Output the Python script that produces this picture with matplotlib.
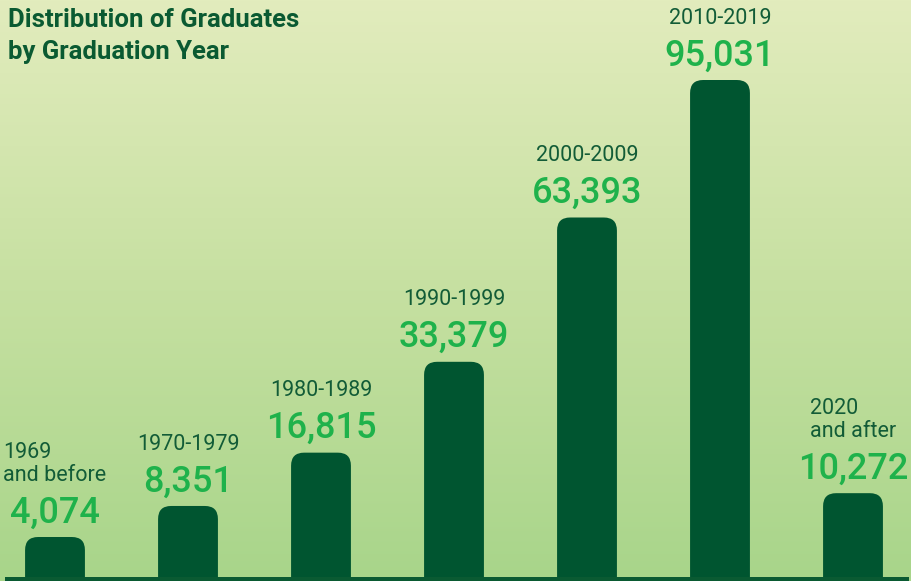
import numpy as np
import matplotlib
matplotlib.use("Agg")
from matplotlib import pyplot as plt
from matplotlib.patches import FancyBboxPatch, Rectangle
from matplotlib.colors import LinearSegmentedColormap

# data
periods = ["1969\nand before", "1970-1979", "1980-1989", "1990-1999",
           "2000-2009", "2010-2019", "2020\nand after"]
graduates = [4074, 8351, 16815, 33379, 63393, 95031, 10272]

dark_green = "#005530"
text_green = "#125c37"
value_green = "#1fb24b"

W, H = 912, 581
fig = plt.figure(figsize=(W / 100, H / 100), dpi=100)

# background gradient
bg = fig.add_axes([0, 0, 1, 1], zorder=0)
grad = LinearSegmentedColormap.from_list("bg", ["#e2ecbd", "#c6e0a1", "#a8d58a"])
bg.imshow(np.linspace(0, 1, 256).reshape(-1, 1), aspect="auto", cmap=grad,
          extent=[0, 1, 0, 1], origin="upper")
bg.axis("off")

# main axes, bars sit on a stripe 4px high
ax = fig.add_axes([0, 4 / H, 1, (H - 4) / H], zorder=1)
ax.patch.set_alpha(0)
ax.set_yscale("function", functions=(lambda v: np.sign(v) * np.abs(v) ** 0.8,
                                     lambda v: np.sign(v) * np.abs(v) ** 1.25))
x = np.arange(len(graduates))
ax.set_xlim(-55 / 133, (W - 55) / 133)
top = (max(graduates) ** 0.8 * (H - 4) / 497) ** 1.25
ax.set_ylim(0, top)
ax.axis("off")

# bars with rounded tops, built in pixel space from the data transform
width = 0.45
rad = 13
for xi, v in zip(x, graduates):
    (x0, y0), (x1, y1) = ax.transData.transform([(xi - width / 2, 0), (xi + width / 2, v)])
    p = FancyBboxPatch((x0 / fig.dpi, -rad / fig.dpi), (x1 - x0) / fig.dpi, (y1 + rad) / fig.dpi,
                       boxstyle=f"round,pad=0,rounding_size={rad / fig.dpi}",
                       transform=fig.dpi_scale_trans, facecolor=dark_green, edgecolor="none",
                       zorder=2)
    fig.add_artist(p)

    ax.annotate(f"{v:,}", (xi, v), xytext=(0, 10.5), textcoords="offset points",
                ha="center", va="baseline", fontsize=26, fontweight="medium",
                family="Roboto", color=value_green)
    ax.annotate(periods[xi], (xi, v), xytext=(0, 37), textcoords="offset points",
                ha="center", va="bottom", multialignment="left", linespacing=1.1,
                fontsize=15.5, family="Roboto", color=text_green)

fig.add_artist(Rectangle((5 / W, 0), (909 - 5) / W, 4 / H, transform=fig.transFigure,
                         facecolor="#0a5a32", edgecolor="none", zorder=3))

fig.text(8 / W, 1 - 8 / H, "Distribution of Graduates\nby Graduation Year", ha="left", va="top",
         fontsize=18.5, fontweight="bold", family="Roboto", color="#0a5a32", linespacing=1.4)

fig.savefig("out.png", dpi=100)
